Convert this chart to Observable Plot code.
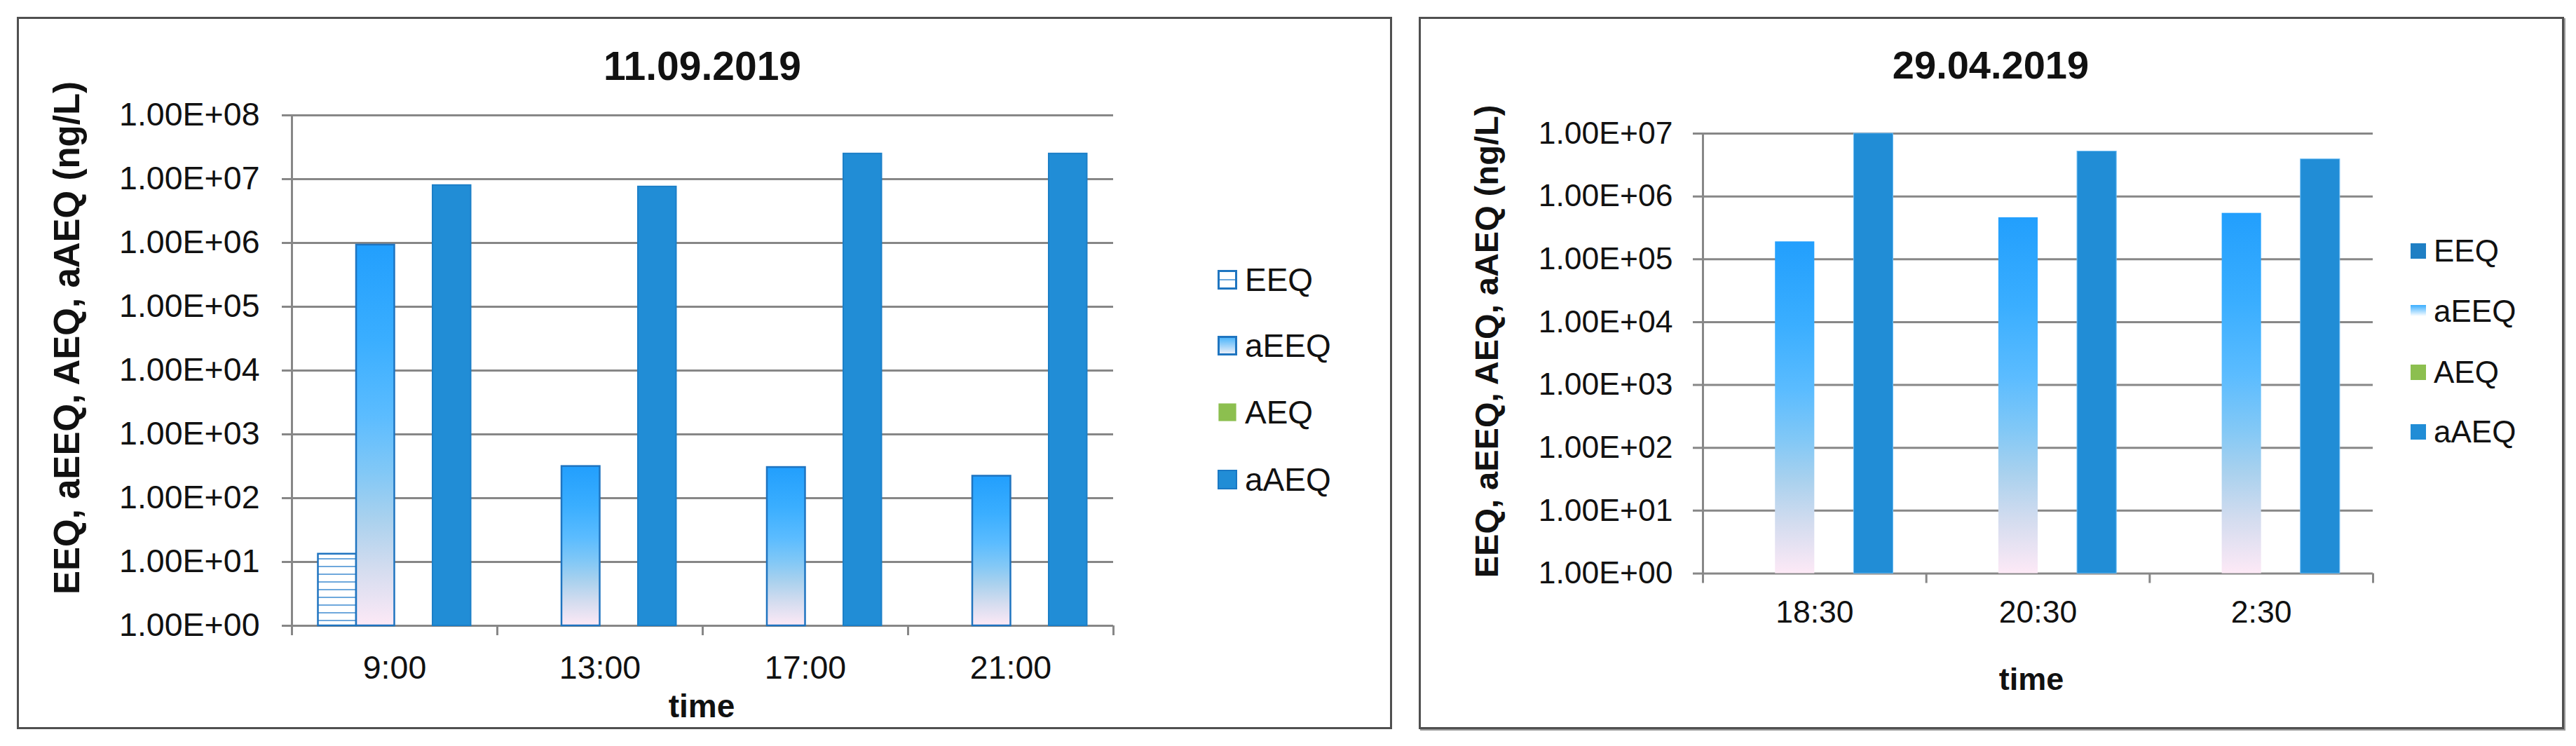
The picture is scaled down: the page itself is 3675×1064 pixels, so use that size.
<!DOCTYPE html>
<html>
<head>
<meta charset="utf-8">
<script src="https://cdn.jsdelivr.net/npm/d3@7"></script>
<script src="https://cdn.jsdelivr.net/npm/@observablehq/plot@0.6"></script>
<style>
  html, body { margin: 0; padding: 0; background: #fff; }
  body { width: 3675px; height: 1064px; position: relative; overflow: hidden;
         font-family: "Liberation Sans", Arial, sans-serif; color: #111; }
  .panel { position: absolute; box-sizing: border-box; border: 3px solid #505050; background: #fff; }
  .txt { position: absolute; white-space: nowrap; line-height: 1; }
  .sw { position: absolute; box-sizing: border-box; }
  svg.plot { position: absolute; overflow: visible; }
</style>
</head>
<body>
<svg width="0" height="0" style="position:absolute;left:0;top:0">
  <defs>
    <linearGradient id="gradAEEQ" x1="0" y1="0" x2="0" y2="1">
      <stop offset="0" stop-color="#229ffd"/>
      <stop offset="0.25" stop-color="#3aaeff"/>
      <stop offset="0.45" stop-color="#5bbcff"/>
      <stop offset="0.60" stop-color="#82c8f6"/>
      <stop offset="0.72" stop-color="#a9d1ee"/>
      <stop offset="0.85" stop-color="#d3dcef"/>
      <stop offset="1" stop-color="#fde9f6"/>
    </linearGradient>
    <pattern id="stripesEEQ" patternUnits="userSpaceOnUse" width="12" height="11">
      <rect width="12" height="11" fill="#ffffff"/>
      <rect y="5" width="12" height="2" fill="#6ea8dc"/>
    </pattern>
  </defs>
</svg>
<div id="root"></div>
<script>
// ---------- data ----------
const seriesNames = ["EEQ", "aEEQ", "AEQ", "aAEQ"];

// Panel 1: 11.09.2019
const title1 = "11.09.2019";
const times1 = ["9:00", "13:00", "17:00", "21:00"];
const EEQ1  = [13.3, null, null, null];
const aEEQ1 = [9.3e5, 315, 304, 222];
const AEQ1  = [null, null, null, null];
const aAEQ1 = [8.0e6, 7.6e6, 2.5e7, 2.5e7];

// Panel 2: 29.04.2019
const title2 = "29.04.2019";
const times2 = ["18:30", "20:30", "2:30"];
const EEQ2  = [null, null, null];
const aEEQ2 = [1.9e5, 4.6e5, 5.4e5];
const AEQ2  = [null, null, null];
const aAEQ2 = [1.0e7, 5.2e6, 3.9e6];

// axis ticks
const yTickValues = [1, 1e1, 1e2, 1e3, 1e4, 1e5, 1e6, 1e7, 1e8];
const yTickLabels = ["1.00E+00", "1.00E+01", "1.00E+02", "1.00E+03", "1.00E+04",
                     "1.00E+05", "1.00E+06", "1.00E+07", "1.00E+08"];
const yLabel = "EEQ, aEEQ, AEQ, aAEQ (ng/L)";
const xLabel = "time";

// ---------- helpers ----------
const GRID = "#878787";
const root = document.getElementById("root");

function el(cls, css, text) {
  const d = document.createElement("div");
  d.className = cls;
  Object.assign(d.style, css);
  if (text != null) d.textContent = text;
  root.appendChild(d);
  return d;
}
// text whose cap-height centre sits at (x, y)
function text(str, x, y, size, opts = {}) {
  const css = { left: x + "px", top: (y - 0.49 * size) + "px", fontSize: size + "px",
                fontWeight: opts.bold ? "bold" : "normal" };
  if (opts.anchor !== "start") css.transform = "translateX(-50%)";
  return el("txt", css, str);
}
function vtext(str, x, y, size) {
  return el("txt", { left: x + "px", top: y + "px", fontSize: size + "px", fontWeight: "bold",
                     transform: "translate(-50%,-50%) rotate(-90deg)" }, str);
}

function chart(cfg) {
  const rows = [];
  cfg.times.forEach((t, i) => seriesNames.forEach((s, j) => {
    const v = cfg.values[j][i];
    if (v != null) rows.push({ time: t, series: s, value: v });
  }));
  const innerW = cfg.width - cfg.ml - cfg.mr;
  const step = innerW / cfg.times.length;
  const barW = step * cfg.barFrac;
  const pad = (step - barW * seriesNames.length) / 2;
  const ticks = yTickValues.filter(v => v <= cfg.yMax);

  const marks = [
    Plot.ruleY(ticks, { y: d => d, stroke: GRID, strokeWidth: 3, insetLeft: -14 }),
    Plot.ruleX([cfg.times[0]], { x: d => d, dx: -step / 2, stroke: GRID, strokeWidth: 3 }),
    Plot.ruleX(cfg.times, { x: d => d, y1: 1, y2: 1, insetBottom: -14, dx: -step / 2, stroke: GRID, strokeWidth: 3 }),
    Plot.ruleX([cfg.times[cfg.times.length - 1]], { x: d => d, y1: 1, y2: 1, insetBottom: -14, dx: step / 2, stroke: GRID, strokeWidth: 3 })
  ];
  seriesNames.forEach((s, j) => {
    const data = rows.filter(r => r.series === s);
    if (!data.length) return;
    marks.push(Plot.barY(data, {
      x: "time", y1: 1, y2: "value",
      insetLeft: pad + j * barW, insetRight: step - pad - (j + 1) * barW,
      ...cfg.styles[s]
    }));
  });

  const svg = Plot.plot({
    width: cfg.width, height: cfg.height,
    marginLeft: cfg.ml, marginRight: cfg.mr, marginTop: cfg.mt, marginBottom: cfg.mb,
    x: { domain: cfg.times, padding: 0, round: false, tickSize: 0, tickPadding: cfg.xPad, label: null },
    y: { type: "log", domain: [1, cfg.yMax], ticks, tickSize: 0, tickPadding: cfg.yPad,
         tickFormat: d => yTickLabels[yTickValues.indexOf(d)], label: null },
    style: { fontFamily: "'Liberation Sans', Arial, sans-serif", fontSize: cfg.fontSize + "px",
             color: "#111", background: "transparent", overflow: "visible" },
    marks
  });
  svg.classList.add("plot");
  svg.style.left = cfg.left + "px";
  svg.style.top = cfg.top + "px";
  root.appendChild(svg);
}

function legend(items, x, ys, size, textX, fontSize) {
  items.forEach((it, i) => {
    el("sw", Object.assign({ left: x + "px", top: (ys[i] - size / 2) + "px",
      width: size + "px", height: size + "px" }, it.css));
    text(seriesNames[i], textX, ys[i], fontSize, { anchor: "start" });
  });
}

// ---------- panel 1 ----------
el("panel", { left: "24px", top: "24px", width: "1962px", height: "1016px" });
text(title1, 1002, 94, 57, { bold: true });
vtext(yLabel, 95, 482, 51);
text(xLabel, 1001, 1007, 46, { bold: true });
chart({
  left: 150, top: 120, width: 1470, height: 880,
  ml: 266, mr: 32, mt: 44, mb: 108,
  times: times1, values: [EEQ1, aEEQ1, AEQ1, aAEQ1], yMax: 1e8,
  barFrac: 0.186, xPad: 42, yPad: 46, fontSize: 46.5,
  styles: {
    EEQ:  { fill: "url(#stripesEEQ)", stroke: "#1f74c0", strokeWidth: 2.5 },
    aEEQ: { fill: "url(#gradAEEQ)", stroke: "#1f74c0", strokeWidth: 2.5 },
    AEQ:  { fill: "#8cbf4f" },
    aAEQ: { fill: "#218dd6", stroke: "#1c7fc7", strokeWidth: 2 }
  }
});
legend([
  { css: { border: "3px solid #1f75c0", background: "linear-gradient(#fff 0 44%, #6ea8dc 44% 56%, #fff 56%)" } },
  { css: { border: "3px solid #1f75c0", background: "linear-gradient(#4fb6fb, #e9eef8)" } },
  { css: { background: "#8cbf4f", transform: "scale(0.9)" } },
  { css: { border: "2px solid #1a78c4", background: "#218dd6" } }
], 1737, [399, 493, 588, 684], 28, 1776, 46);

// ---------- panel 2 ----------
el("panel", { left: "2024px", top: "24px", width: "1634px", height: "1016px",
              boxShadow: "2px 2px 0 #9a9a9a" });
text(title2, 2840, 92.5, 56, { bold: true });
vtext(yLabel, 2120, 487, 47);
text(xLabel, 2898, 968, 45, { bold: true });
chart({
  left: 2160, top: 150, width: 1260, height: 760,
  ml: 269, mr: 35, mt: 40, mb: 92.5,
  times: times2, values: [EEQ2, aEEQ2, AEQ2, aAEQ2], yMax: 1e7,
  barFrac: 0.176, xPad: 38, yPad: 43, fontSize: 44.5,
  styles: {
    EEQ:  { fill: "#1f7fc4" },
    aEEQ: { fill: "url(#gradAEEQ)" },
    AEQ:  { fill: "#8cbf4f" },
    aAEQ: { fill: "#218dd6", stroke: "#6cbcf3", strokeWidth: 1 }
  }
});
legend([
  { css: { background: "#1f7fc4" } },
  { css: { background: "linear-gradient(#3aaeff, #ffffff)", height: "16px", marginTop: "2px" } },
  { css: { background: "#8cbf4f" } },
  { css: { background: "#218dd6" } }
], 3439, [357.5, 444, 530.5, 616], 22, 3472, 44);
</script>
</body>
</html>
